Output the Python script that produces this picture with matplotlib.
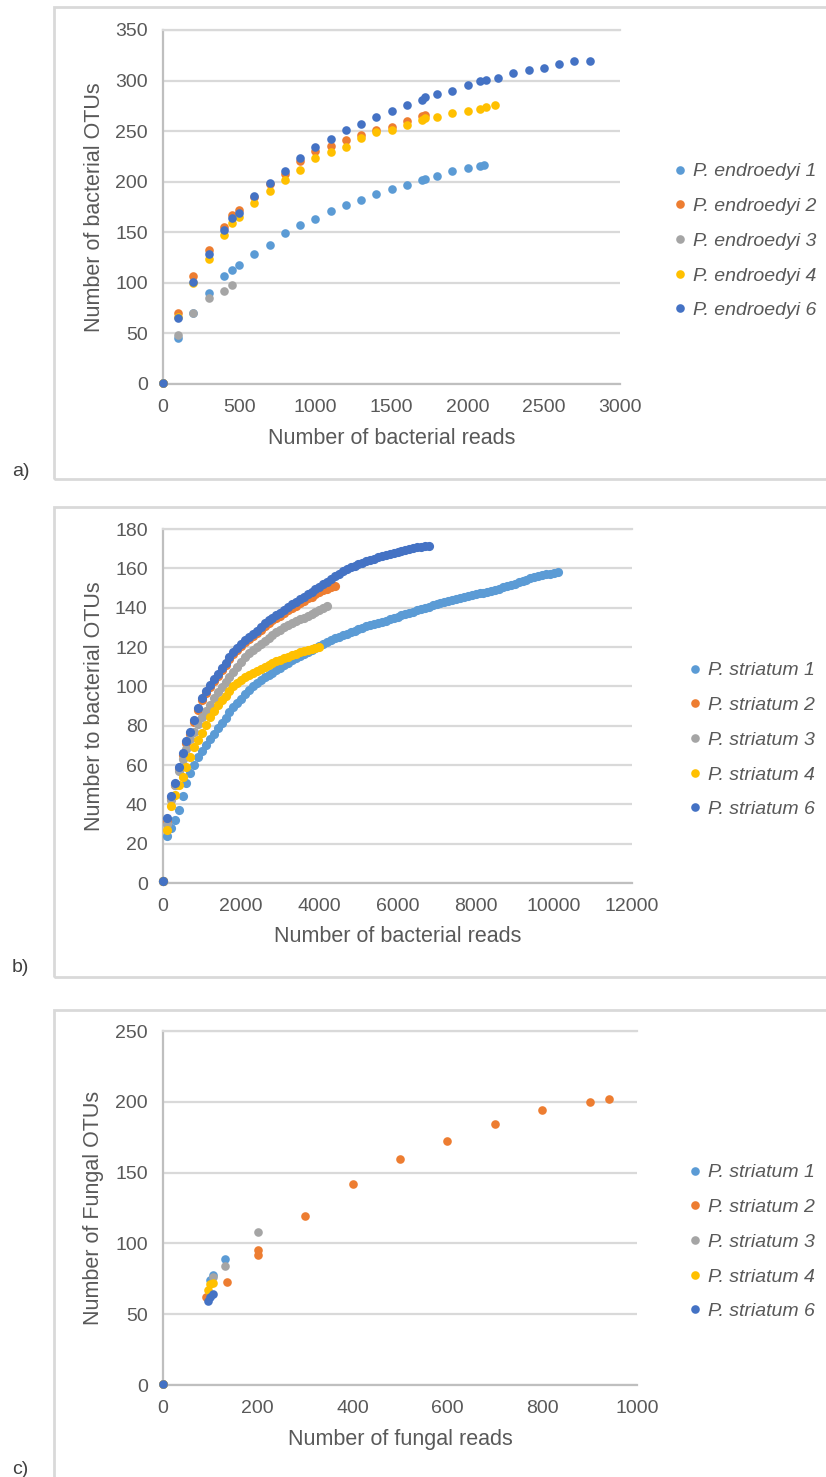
import matplotlib.pyplot as plt
from matplotlib.patches import Rectangle

W, H = 826, 1477
DPI = 100

plt.rcParams['font.family'] = ['Liberation Sans', 'DejaVu Sans']

COLORS = ['#5B9BD5', '#ED7D31', '#A5A5A5', '#FFC000', '#4472C4']
TEXT = '#595959'
GRID = '#d9d9d9'
AXIS = '#bfbfbf'

# ---- a) P. endroedyi, bacterial reads ----
A_NAMES = ['P. endroedyi 1', 'P. endroedyi 2', 'P. endroedyi 3',
           'P. endroedyi 4', 'P. endroedyi 6']
A_X1 = [0, 100, 200, 300, 400, 450, 500, 600, 700, 800, 900, 1000, 1100, 1200,
        1300, 1400, 1500, 1600, 1700, 1720, 1800, 1900, 2000, 2080, 2110]
A_Y1 = [1, 45, 70, 90, 107, 113, 118, 129, 137, 149, 157, 163, 171, 177,
        182, 188, 193, 197, 202, 203, 206, 211, 214, 216, 217]
A_X2 = [0, 100, 200, 300, 400, 450, 500, 600, 700, 800, 900, 1000, 1100, 1200,
        1300, 1400, 1500, 1600, 1700, 1720]
A_Y2 = [1, 70, 107, 132, 155, 167, 172, 185, 198, 208, 220, 230, 235, 241,
        246, 251, 254, 260, 265, 266]
A_X3 = [0, 100, 200, 300, 400, 450]
A_Y3 = [1, 48, 70, 85, 92, 98]
A_X4 = [0, 100, 200, 300, 400, 450, 500, 600, 700, 800, 900, 1000, 1100, 1200,
        1300, 1400, 1500, 1600, 1700, 1720, 1800, 1900, 2000, 2080, 2120, 2180]
A_Y4 = [1, 66, 100, 124, 147, 159, 165, 179, 191, 202, 212, 223, 229, 234,
        243, 249, 251, 256, 261, 263, 264, 268, 270, 272, 274, 276]
A_X6 = [0, 100, 200, 300, 400, 450, 500, 600, 700, 800, 900, 1000, 1100, 1200,
        1300, 1400, 1500, 1600, 1700, 1720, 1800, 1900, 2000, 2080, 2120, 2200,
        2300, 2400, 2500, 2600, 2700, 2800]
A_Y6 = [1, 65, 101, 129, 152, 164, 169, 186, 199, 211, 223, 234, 242, 251,
        257, 264, 270, 276, 281, 284, 287, 290, 296, 300, 301, 303,
        307, 310, 312, 316, 319, 319]

# ---- b) P. striatum, bacterial reads (shared read depths) ----
B_NAMES = ['P. striatum 1', 'P. striatum 2', 'P. striatum 3',
           'P. striatum 4', 'P. striatum 6']
B_READS = [0, 100, 200, 300, 400, 500, 600, 700, 800, 900,
           1000, 1100, 1200, 1300, 1400, 1500, 1600, 1700, 1800, 1900,
           2000, 2100, 2200, 2300, 2400, 2500, 2600, 2700, 2800, 2900,
           3000, 3100, 3200, 3300, 3400, 3500, 3600, 3700, 3800, 3900,
           4000, 4100, 4200, 4300, 4400, 4500, 4600, 4700, 4800, 4900,
           5000, 5100, 5200, 5300, 5400, 5500, 5600, 5700, 5800, 5900,
           6000, 6100, 6200, 6300, 6400, 6500, 6600, 6700, 6800, 6900,
           7000, 7100, 7200, 7300, 7400, 7500, 7600, 7700, 7800, 7900,
           8000, 8100, 8200, 8300, 8400, 8500, 8600, 8700, 8800, 8900,
           9000, 9100, 9200, 9300, 9400, 9500, 9600, 9700, 9800, 9900,
           10000, 10100]
B_Y1 = [1, 24, 28, 32, 37, 44, 51, 56, 60, 64,
        67, 70, 73, 76, 79, 81.5, 84, 87, 89.5, 91.5,
        93.5, 96, 98, 100, 101.5, 103, 104.5, 106, 107, 108.5,
        109.5, 111, 112, 113.5, 114.5, 115.5, 116.5, 117.5, 118.5, 119.5,
        120.5, 121.5, 122.5, 123.5, 124.5, 125.3, 126, 126.8, 127.5, 128.3,
        129, 129.8, 130.5, 131, 131.5, 132, 132.5, 133.3, 134, 134.8,
        135.5, 136.3, 137, 137.5, 138, 138.8, 139.5, 140, 140.5, 141.3,
        142, 142.5, 143, 143.5, 144, 144.5, 145, 145.5, 146, 146.5,
        147, 147.3, 147.5, 148, 148.5, 149, 149.5, 150.3, 151, 151.5,
        152, 152.8, 153.5, 154.3, 155, 155.5, 156, 156.5, 157, 157.3,
        157.5, 158]
B_Y2 = [1, 31, 43, 50, 58, 65, 71, 76, 82, 88,
        93, 96.5, 99.5, 102.5, 105.5, 108.5, 111, 114, 116.5, 118.5,
        120.5, 122.5, 124, 125.5, 127, 128.8, 130.7, 132.2, 133.6, 135,
        136, 137.3, 138.7, 140, 141, 142.3, 143.3, 144.7, 145.6, 146.9,
        147.8, 148.8, 149.6, 150.3, 151]
B_Y3 = [1, 30, 42, 50, 57, 63, 68, 73, 77, 81,
        84.5, 87.5, 90.5, 94, 97, 99.5, 102, 105, 107.5, 110,
        112.5, 115, 117, 118.5, 120, 121.5, 123, 124.5, 126, 127.5,
        128.5, 130, 131, 132, 133, 134, 135, 136, 137, 138,
        139, 140, 141]
B_Y4 = [1, 27, 39, 45, 50, 54, 59, 64, 69, 72.5,
        76.5, 80.5, 84.5, 87.5, 90.5, 93, 95, 97.5, 100, 101.5,
        103, 104.5, 106, 107, 108, 109, 110, 111, 112, 113,
        113.5, 114.5, 115, 116, 116.5, 117.5, 118, 118.5, 119, 119.5,
        120]
B_Y6 = [1, 33, 44, 51, 59, 66, 72, 77, 83, 89,
        94, 97.5, 100.5, 103.5, 106.5, 109.5, 112, 115, 117.5, 119.5,
        121.5, 123.5, 125, 126.5, 128, 130, 132, 133.5, 135, 136.5,
        137.5, 139, 140.5, 142, 143, 144.5, 145.5, 147, 148, 149.5,
        150.5, 151.8, 153, 154.5, 156, 157.3, 158.5, 159.5, 160.5, 161.3,
        162, 162.8, 163.5, 164.3, 165, 165.8, 166.5, 167, 167.5, 168,
        168.5, 169, 169.5, 170, 170.5, 170.8, 171, 171.3, 171.5]

# ---- c) P. striatum, fungal reads ----
C_X1 = [0, 100, 105, 130]
C_Y1 = [1, 74, 78, 89]
C_X2 = [0, 90, 135, 200, 200, 300, 400, 500, 600, 700, 800, 900, 940]
C_Y2 = [1, 62, 73, 92, 95, 119, 142, 159.5, 172, 184, 194, 200, 202]
C_X3 = [0, 105, 130, 200]
C_Y3 = [1, 76, 84, 108]
C_X4 = [0, 95, 100, 105]
C_Y4 = [1, 67, 71, 72]
C_X6 = [0, 95, 100, 105]
C_Y6 = [1, 59, 62, 64]


def fx(px):
    return px / W


def fy(py):
    return 1 - py / H


def make_axes(fig, left, right, top, bottom):
    return fig.add_axes([fx(left), fy(bottom), fx(right - left), (bottom - top) / H])


def style_axes(ax, xmax, xstep, ymax, ystep, xlabel, ylabel, h_px, w_px):
    ax.set_xlim(0, xmax)
    ax.set_ylim(0, ymax)
    ax.set_xticks(range(0, xmax + 1, xstep))
    ax.set_yticks(range(0, ymax + 1, ystep))
    ax.yaxis.grid(True, color=GRID, lw=1.6)
    ax.set_axisbelow(True)
    ax.spines['right'].set_visible(False)
    ax.spines['top'].set_color(GRID)
    ax.spines['top'].set_linewidth(1.6)
    for side in ('left', 'bottom'):
        ax.spines[side].set_color(AXIS)
        ax.spines[side].set_linewidth(1.6)
    ax.tick_params(length=0, pad=11, labelsize=14, labelcolor=TEXT)
    ax.set_xlabel(xlabel, fontsize=15.5, color=TEXT, va='center')
    ax.set_ylabel(ylabel, fontsize=15.5, color=TEXT, va='center', ha='center')
    ax.xaxis.set_label_coords(0.5, -54 / h_px)
    ax.yaxis.set_label_coords(-69 / w_px, 0.5)


def draw_series(ax, xs, ys, ms):
    handles = []
    for x, y, c in zip(xs, ys, COLORS):
        h, = ax.plot(x, y, 'o', color=c, ms=ms, mew=0, clip_on=False, zorder=3)
        handles.append(h)
    return handles


def add_legend(ax, fig, handles, names, left_px, center_px, ms):
    leg = ax.legend(handles, names, loc='center left',
                    bbox_to_anchor=(fx(left_px), fy(center_px)),
                    bbox_transform=fig.transFigure, frameon=False,
                    prop={'size': 14, 'style': 'italic'}, labelcolor=TEXT,
                    handlelength=0.6, handletextpad=0.4, labelspacing=0.88,
                    borderpad=0, borderaxespad=0, markerscale=6.2 / ms)
    return leg


fig = plt.figure(figsize=(W / DPI, H / DPI), dpi=DPI, facecolor='white')

# panel frames
for top, bottom in [(7, 479), (507, 977), (1010, 1530)]:
    fig.add_artist(Rectangle((fx(54), fy(bottom)), 1.1, (bottom - top) / H,
                             transform=fig.transFigure, fill=False,
                             ec=GRID, lw=2, clip_on=False))

# a)
ax = make_axes(fig, 163, 620, 30, 384)
style_axes(ax, 3000, 500, 350, 50, 'Number of bacterial reads',
           'Number of bacterial OTUs', 354, 457)
hs = draw_series(ax, [A_X1, A_X2, A_X3, A_X4, A_X6],
                 [A_Y1, A_Y2, A_Y3, A_Y4, A_Y6], 6.2)
add_legend(ax, fig, hs, A_NAMES, 674, 241, 6.2)
fig.text(fx(12), fy(472), 'a)', fontsize=14, color='#404040', va='center')

# b)
ax = make_axes(fig, 163, 632, 529, 883)
style_axes(ax, 12000, 2000, 180, 20, 'Number of bacterial reads',
           'Number to bacterial OTUs', 354, 469)
b_ys = [B_Y1, B_Y2, B_Y3, B_Y4, B_Y6]
hs = draw_series(ax, [B_READS[:len(y)] for y in b_ys], b_ys, 6.6)
add_legend(ax, fig, hs, B_NAMES, 689, 740, 6.6)
fig.text(fx(12), fy(968), 'b)', fontsize=14, color='#404040', va='center')

# c)
ax = make_axes(fig, 163, 637, 1031, 1385)
style_axes(ax, 1000, 200, 250, 50, 'Number of fungal reads',
           'Number of Fungal OTUs', 354, 474)
hs = draw_series(ax, [C_X1, C_X2, C_X3, C_X4, C_X6],
                 [C_Y1, C_Y2, C_Y3, C_Y4, C_Y6], 6.2)
add_legend(ax, fig, hs, B_NAMES, 689, 1242, 6.2)
fig.text(fx(12), fy(1470), 'c)', fontsize=14, color='#404040', va='center')

fig.savefig('out.png', dpi=DPI, facecolor='white')
